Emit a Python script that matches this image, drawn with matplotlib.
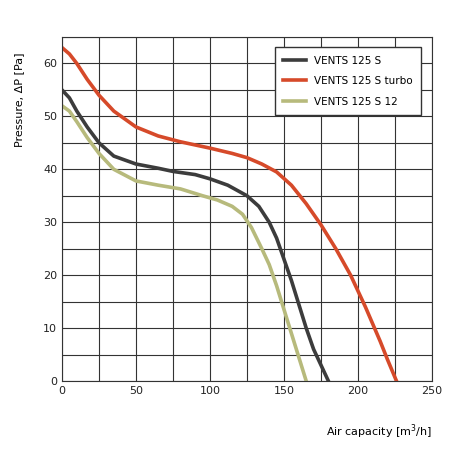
import matplotlib
matplotlib.use("Agg")
import matplotlib.pyplot as plt

s_x = [0, 5, 10, 17, 25, 35, 50, 65, 75, 90, 100, 112, 125, 133, 140, 145, 150, 155, 160, 165, 170, 175, 180]
s_y = [55, 53.5, 51, 48, 45, 42.5, 41, 40.2, 39.6, 39, 38.2, 37, 35, 33, 30, 27, 23, 19, 14.5, 10, 6, 3, 0]
t_x = [0, 5, 10, 17, 25, 35, 50, 65, 80, 100, 115, 125, 135, 145, 155, 165, 175, 185, 195, 205, 215, 220, 226]
t_y = [63, 61.8, 60, 57, 54, 51, 48, 46.3, 45.2, 44, 43, 42.2, 41, 39.5, 37, 33.5, 29.5, 25, 20, 14, 7.5, 4, 0]
d_x = [0, 5, 10, 17, 25, 35, 50, 65, 80, 95, 105, 115, 122, 128, 135, 140, 145, 150, 155, 160, 165]
d_y = [52, 51, 49, 46, 43, 40, 37.8, 37, 36.3, 35, 34.2, 33, 31.5, 29, 25, 22, 18, 13.5, 9, 4.5, 0]

fig = plt.figure(figsize=(4.7, 4.7), dpi=100)
ax = fig.add_axes([62/470, 1-381/470, 370/470, 344/470])
ax.plot(s_x, s_y, color="#3c3c3c", lw=2.6, label="VENTS 125 S")
ax.plot(t_x, t_y, color="#d64a2a", lw=2.6, label="VENTS 125 S turbo")
ax.plot(d_x, d_y, color="#b7ba7c", lw=2.6, label="VENTS 125 S 12")
ax.set_xlim(0, 250)
ax.set_ylim(0, 65)
ax.set_xticks(range(0, 251, 50))
ax.set_xticks(range(0, 251, 25), minor=True)
ax.set_yticks(range(0, 61, 10))
ax.set_yticks(range(0, 66, 5), minor=True)
ax.grid(True, which="both", color="#333333", lw=0.8)
ax.tick_params(which="both", length=0, labelsize=8, colors="#222222")
for sp in ax.spines.values():
    sp.set_color("#333333")
leg = ax.legend(loc="upper right", fontsize=7.5, fancybox=False, framealpha=1,
                edgecolor="#333333", borderpad=0.8, labelspacing=1.0, handlelength=2.2,
                bbox_to_anchor=(0.985, 0.985))
fig.text(14/470, 1-100/470, "Pressure, ΔP [Pa]", rotation=90, fontsize=8, va="center", ha="left")
fig.text(432/470, 1-432/470, "Air capacity [m$^3$/h]", fontsize=8, ha="right", va="center")
fig.savefig("out.png", dpi=100)
